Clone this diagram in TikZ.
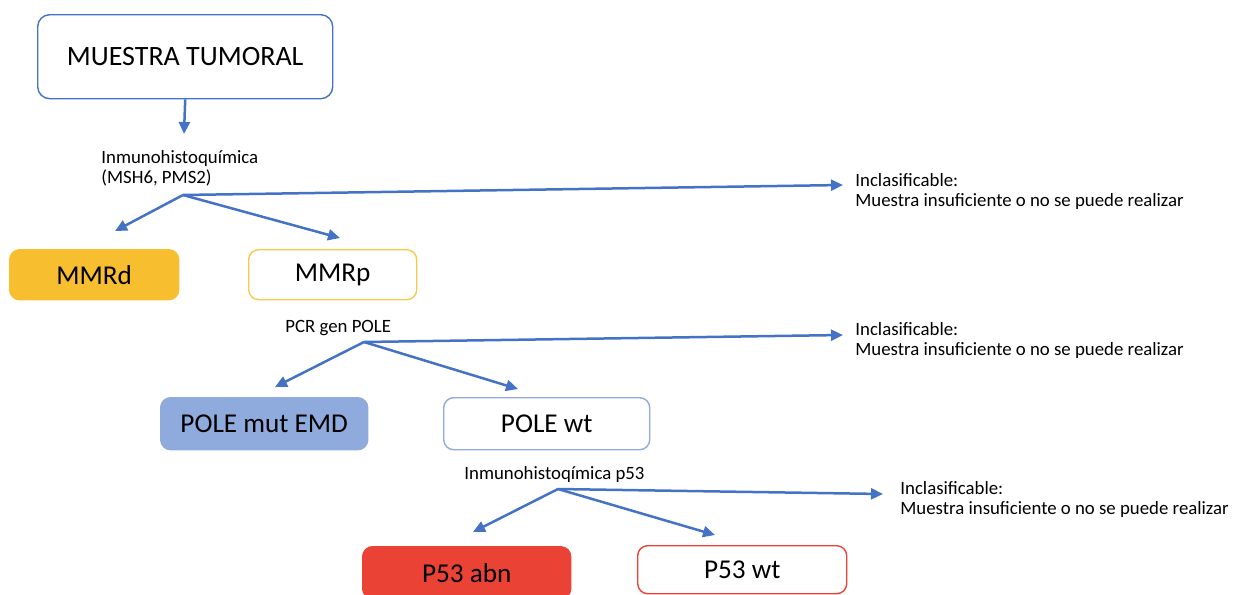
\documentclass[tikz,border=0pt]{standalone}
\usepackage{fontspec}
\setmainfont{Carlito}
\usetikzlibrary{arrows.meta}
\definecolor{azul}{RGB}{68,114,196}
\definecolor{ambar}{RGB}{247,190,48}
\definecolor{ambarclaro}{RGB}{249,201,75}
\definecolor{celeste}{RGB}{143,170,220}
\definecolor{rojo}{RGB}{234,67,53}
\newcommand{\fuentecaja}{\fontsize{13.6}{16}\selectfont}
\newcommand{\fuentenota}{\fontsize{9.4}{10}\selectfont}
\tikzset{
  caja/.style={rectangle, rounded corners=5pt, line width=0.7pt, inner sep=0pt, anchor=north west, font=\fuentecaja},
  flechaazul/.style={draw=azul, line width=1.25pt, -{Triangle[length=6pt,width=5.5pt]}},
  nota/.style={anchor=north west, inner sep=0pt, align=left, font=\fuentenota}
}
\begin{document}
\begin{tikzpicture}[x=0.5pt,y=-0.5pt]
\useasboundingbox (0,0) rectangle (1246,594);
% cajas
\node[caja, draw=azul, rounded corners=6pt, minimum width=147.5pt, minimum height=42pt, font=\fontsize{14}{16}\selectfont] (muestra) at (37,14) {MUESTRA TUMORAL};
\node[caja, draw=ambar, fill=ambar, minimum width=84.5pt, minimum height=25pt] (mmrd) at (9,249) {MMRd};
\node[caja, draw=ambarclaro, fill=white, minimum width=84pt, minimum height=25pt] (mmrp) at (248,249) {MMRp};
\node[caja, draw=celeste, fill=celeste, minimum width=103.5pt, minimum height=26pt] (polemut) at (160,397) {POLE mut EMD};
\node[caja, draw=celeste, fill=white, minimum width=103pt, minimum height=26pt] (polewt) at (443,397) {POLE wt};
\node[caja, draw=rojo, fill=rojo, minimum width=104pt, minimum height=26pt] (pabn) at (362,546) {P53 abn};
\node[caja, draw=rojo, fill=white, minimum width=104.5pt, minimum height=24pt] (pwt) at (637,545) {P53 wt};
% textos
\node[nota] (ihq) at (101,150) {Inmunohistoquímica\\(MSH6, PMS2)};
\node[nota] (pcr) at (285,320) {PCR gen POLE};
\node[nota] (ihqp) at (464,466) {Inmunohistoqímica p53};
\node[nota] (inca) at (855,173) {Inclasificable:\\Muestra insuficiente o no se puede realizar};
\node[nota] (incb) at (855,322) {Inclasificable:\\Muestra insuficiente o no se puede realizar};
\node[nota] (incc) at (900,481) {Inclasificable:\\Muestra insuficiente o no se puede realizar};
% puntos de las flechas
\coordinate (f0) at (184,134);
\coordinate (r1) at (183,195);
\coordinate (r1a) at (115,231);
\coordinate (r1b) at (340,238);
\coordinate (r1c) at (843,185);
\coordinate (r2) at (364,342);
\coordinate (r2a) at (275,387);
\coordinate (r2b) at (518,389);
\coordinate (r2c) at (843,335);
\coordinate (r3) at (558,489);
\coordinate (r3a) at (473,532);
\coordinate (r3b) at (715,535);
\coordinate (r3c) at (883,494);
\draw[flechaazul] (muestra.south) -- (f0);
\foreach \r in {r1,r2,r3}{
  \draw[flechaazul] (\r) -- (\r a);
  \draw[flechaazul] (\r) -- (\r b);
  \draw[flechaazul] (\r) -- (\r c);
}
\end{tikzpicture}
\end{document}
